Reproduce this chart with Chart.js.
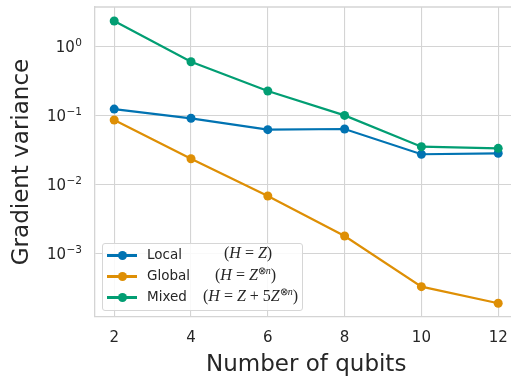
<!DOCTYPE html>
<html>
<head>
<meta charset="utf-8">
<script src="https://cdn.jsdelivr.net/npm/chart.js@4.4.0/dist/chart.umd.min.js"></script>
<style>
  body { margin: 0; overflow: hidden; background: #fff; }
  #wrap { position: relative; width: 511px; height: 377px; overflow: hidden; }
  #legend {
    position: absolute; left: 102px; top: 243px; width: 199px; height: 65px;
    background: rgba(255,255,255,0.85); border: 1px solid #d6d6d6; border-radius: 3px;
    font-family: "DejaVu Sans", sans-serif; font-size: 13.5px; color: #262626;
    padding-top: 1px;
  }
  .row { position: relative; height: 21px; }
  .swatch { position: absolute; left: 4px; top: 9px; width: 30px; height: 2.5px; }
  .dot { position: absolute; left: 10.5px; top: -3.5px; width: 9px; height: 9px; border-radius: 50%; }
  .name { position: absolute; left: 44px; top: 1px; }
  .math { position: absolute; top: -1px; font-family: "Liberation Serif", serif; font-size: 16px; white-space: nowrap; }
  .math sup { font-size: 10px; vertical-align: 6px; }
</style>
</head>
<body>
<div id="wrap">
  <canvas id="chart" width="530" height="377"></canvas>
  <div id="legend"></div>
</div>
<script>
/* --------------- Data --------------------- */
const qubits = [2, 4, 6, 8, 10, 12];
const localVar = [0.126, 0.0926, 0.0633, 0.0648, 0.0279, 0.0288];
const globalVar = [0.0875, 0.0240, 0.00693, 0.00182, 0.000336, 0.000193];
const mixedVar = [2.38, 0.612, 0.230, 0.102, 0.0359, 0.034];

const seriesNames = ["Local", "Global", "Mixed"];
const seriesMath = [
  "(<i>H</i> = <i>Z</i>)",
  "(<i>H</i> = <i>Z</i><sup>⊗<i>n</i></sup>)",
  "(<i>H</i> = <i>Z</i> + 5<i>Z</i><sup>⊗<i>n</i></sup>)",
];
const seriesColors = ["#0173b2", "#de8f05", "#029e73"];

const xTickValues = [2, 4, 6, 8, 10, 12];
const yTickValues = [1e-3, 1e-2, 1e-1, 1];
const yTickExps = ["−3", "−2", "−1", "0"];

const xTitle = "Number of qubits";
const yTitle = "Gradient variance";

/* --------------- Chart --------------------- */
const textColor = "#262626";
const gridColor = "#d4d4d4";
const allSeries = [localVar, globalVar, mixedVar];

const datasets = allSeries.map((vals, i) => ({
  label: seriesNames[i],
  data: qubits.map((q, j) => ({ x: q, y: vals[j] })),
  borderColor: seriesColors[i],
  backgroundColor: seriesColors[i],
  borderWidth: 2.2,
  pointRadius: 4.5,
  pointHoverRadius: 4.5,
  pointBorderWidth: 0,
  order: 2 - i,
}));

// top spine + y tick labels as 10 with raised exponent
const extras = {
  id: "extras",
  beforeDatasetsDraw(chart) {
    const { ctx, chartArea } = chart;
    ctx.save();
    ctx.strokeStyle = gridColor;
    ctx.lineWidth = 1.3;
    ctx.beginPath();
    ctx.moveTo(chartArea.left, chartArea.top);
    ctx.lineTo(chartArea.right + 20, chartArea.top);
    ctx.stroke();
    ctx.restore();
  },
  afterDraw(chart) {
    const { ctx } = chart;
    const y = chart.scales.y;
    const right = chart.chartArea.left - 13;
    ctx.save();
    ctx.fillStyle = textColor;
    ctx.textBaseline = "alphabetic";
    yTickValues.forEach((v, i) => {
      const py = y.getPixelForValue(v);
      ctx.font = "10.5px 'DejaVu Sans'";
      const ew = ctx.measureText(yTickExps[i]).width;
      ctx.textAlign = "right";
      ctx.fillText(yTickExps[i], right, py - 1);
      ctx.font = "15px 'DejaVu Sans'";
      ctx.fillText("10", right - ew - 0.5, py + 5.5);
    });
    ctx.restore();
  },
};

new Chart(document.getElementById("chart"), {
  type: "line",
  data: { datasets },
  plugins: [extras],
  options: {
    responsive: false,
    animation: false,
    layout: { padding: { top: 7, right: 12.6, left: 0, bottom: 0 } },
    plugins: { legend: { display: false }, tooltip: { enabled: false } },
    scales: {
      x: {
        type: "linear",
        min: 1.5,
        max: 12.5,
        afterBuildTicks: (s) => { s.ticks = xTickValues.map((v) => ({ value: v })); },
        afterFit: (s) => { s.height = 60; s.paddingLeft = 0; s.paddingRight = 0; },
        ticks: {
          color: textColor,
          font: { family: "DejaVu Sans", size: 15 },
          padding: 12,
          maxRotation: 0,
        },
        grid: { color: gridColor, lineWidth: 1.1, drawTicks: false },
        border: { color: gridColor, width: 1.3 },
        title: {
          display: true,
          text: xTitle,
          color: textColor,
          font: { family: "DejaVu Sans", size: 23, lineHeight: 1 },
          padding: { top: 0, bottom: 0 },
        },
      },
      y: {
        type: "logarithmic",
        min: 1.22e-4,
        max: 3.8,
        afterBuildTicks: (s) => { s.ticks = yTickValues.map((v) => ({ value: v })); },
        afterFit: (s) => { s.width = 95; s.paddingTop = 0; s.paddingBottom = 0; },
        ticks: {
          color: textColor,
          font: { family: "DejaVu Sans", size: 15 },
          padding: 12,
          callback: () => "",
        },
        grid: { color: gridColor, lineWidth: 1.1, drawTicks: false },
        border: { color: gridColor, width: 1.3 },
        title: {
          display: true,
          text: yTitle,
          color: textColor,
          font: { family: "DejaVu Sans", size: 23 },
          padding: { top: 8, bottom: 0 },
        },
      },
    },
  },
});

/* --------------- Legend --------------------- */
const mathLeft = [121, 112, 100];
const legend = document.getElementById("legend");
seriesNames.forEach((name, i) => {
  const row = document.createElement("div");
  row.className = "row";
  row.innerHTML =
    `<span class="swatch" style="background:${seriesColors[i]}"><span class="dot" style="background:${seriesColors[i]}"></span></span>` +
    `<span class="name">${name}</span>` +
    `<span class="math" style="left:${mathLeft[i]}px">${seriesMath[i]}</span>`;
  legend.appendChild(row);
});
</script>
</body>
</html>
